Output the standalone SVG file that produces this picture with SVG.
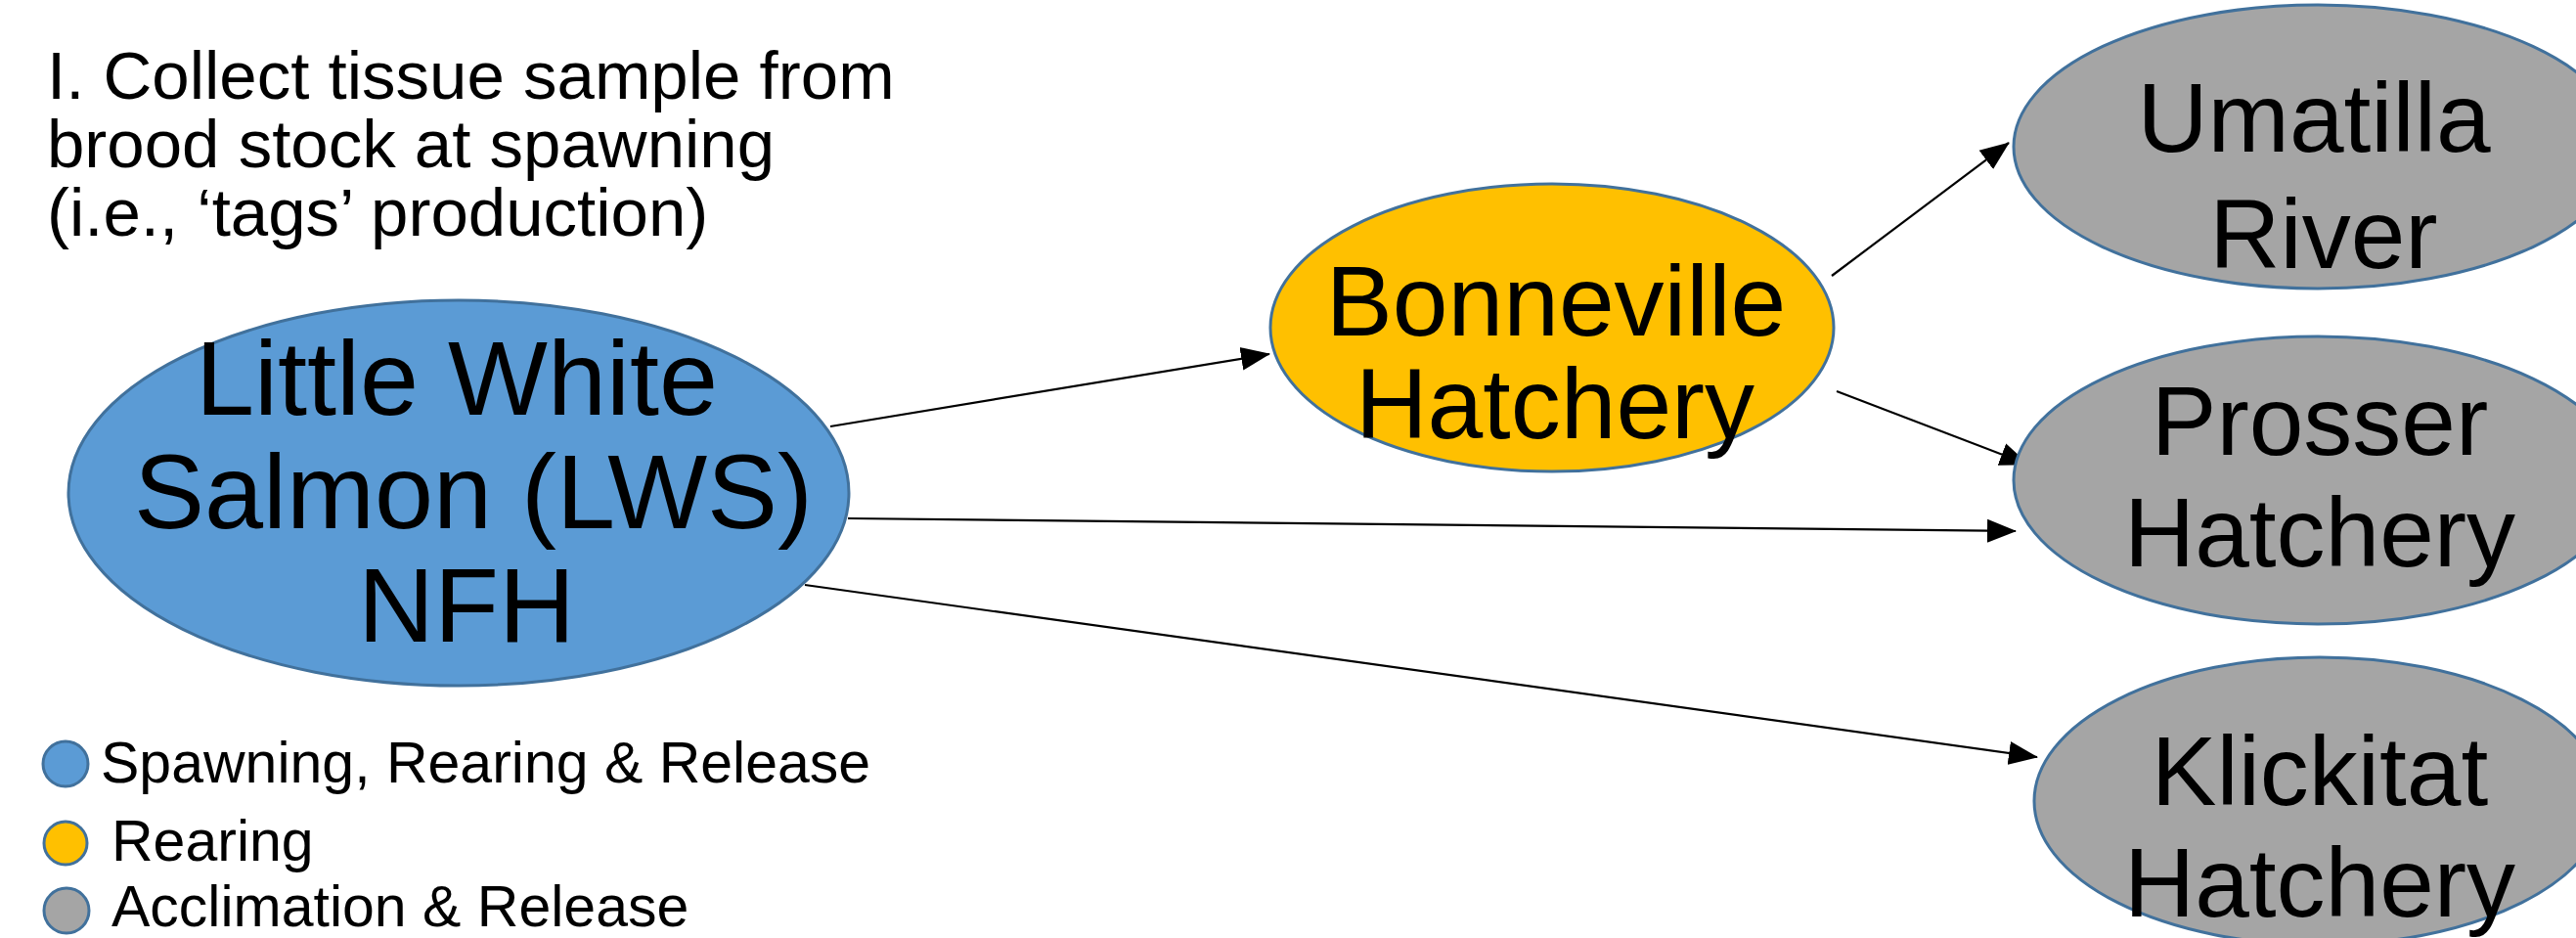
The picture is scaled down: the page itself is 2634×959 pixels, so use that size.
<svg xmlns="http://www.w3.org/2000/svg" width="2634" height="959" viewBox="0 0 2634 959">
<style>
text{font-family:"Liberation Sans",Arial,sans-serif;fill:#000}
.node{stroke:#41719C;stroke-width:3}
.blue{fill:#5B9BD5}
.yellow{fill:#FFC000}
.gray{fill:#A5A5A5}
.big{font-size:108px;text-anchor:middle}
.bon{font-size:102px;text-anchor:middle}
.mid{font-size:100px;text-anchor:middle}
.title{font-size:69px}
.leg{font-size:59px}
.conn line{stroke:#000;stroke-width:2.2;marker-end:url(#arr)}
</style>
<defs>
<marker id="arr" markerUnits="userSpaceOnUse" markerWidth="30" markerHeight="26" viewBox="0 0 30 26" refX="29" refY="13" orient="auto">
<path d="M0,1 L30,13 L0,25 Z" fill="#000"/>
</marker>
</defs>
<rect width="2634" height="959" fill="#fff"/>
<g id="title">
<text class="title" x="48" y="101">I. Collect tissue sample from</text>
<text class="title" x="48" y="171">brood stock at spawning</text>
<text class="title" x="48" y="241">(i.e., ‘tags’ production)</text>
</g>
<g id="connectors" class="conn">
<line x1="849" y1="436" x2="1298" y2="362"/>
<line x1="867" y1="530" x2="2061" y2="543"/>
<line x1="823" y1="598" x2="2083" y2="774"/>
<line x1="1873" y1="282" x2="2054" y2="146"/>
<line x1="1878" y1="400" x2="2074" y2="475"/>
</g>
<g id="lws">
<ellipse class="node blue" cx="469" cy="504" rx="399" ry="197"/>
<text class="big" x="467" y="424">Little White</text>
<text class="big" x="484" y="540">Salmon (LWS)</text>
<text class="big" x="477" y="656">NFH</text>
</g>
<g id="bonneville">
<ellipse class="node yellow" cx="1587" cy="335" rx="288" ry="147"/>
<text class="bon" x="1591" y="343">Bonneville</text>
<text class="bon" x="1590" y="448">Hatchery</text>
</g>
<g id="umatilla">
<ellipse class="node gray" cx="2370" cy="150" rx="311" ry="145"/>
<text class="mid" x="2366" y="155">Umatilla</text>
<text class="mid" x="2376" y="274">River</text>
</g>
<g id="prosser">
<ellipse class="node gray" cx="2370" cy="491" rx="311" ry="147"/>
<text class="mid" x="2372" y="465">Prosser</text>
<text class="mid" x="2372" y="579">Hatchery</text>
</g>
<g id="klickitat">
<ellipse class="node gray" cx="2372" cy="819" rx="292" ry="147"/>
<text class="mid" x="2372" y="823">Klickitat</text>
<text class="mid" x="2372" y="937">Hatchery</text>
</g>
<g id="legend">
<circle class="node blue" cx="67" cy="781" r="23" stroke-width="2"/>
<text class="leg" x="103" y="800">Spawning, Rearing &amp; Release</text>
<circle class="node yellow" cx="67" cy="862" r="22" stroke-width="2"/>
<text class="leg" x="114" y="880">Rearing</text>
<circle class="node gray" cx="68" cy="931" r="23" stroke-width="2"/>
<text class="leg" x="114" y="947">Acclimation &amp; Release</text>
</g>
</svg>
